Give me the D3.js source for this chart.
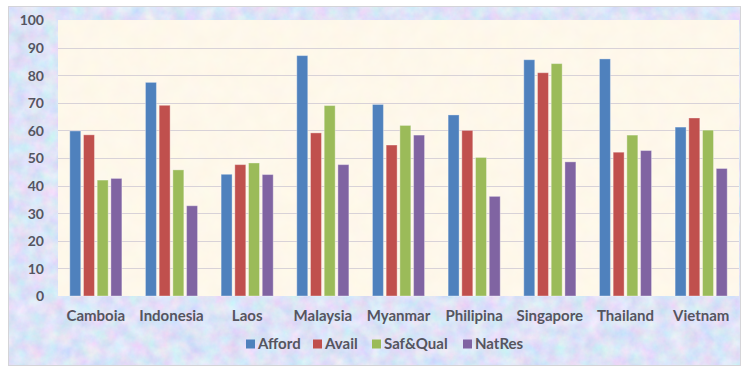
<!DOCTYPE html>
<html>
<head>
<meta charset="utf-8">
<script src="https://cdn.jsdelivr.net/npm/d3@7"></script>
<style>
  html, body { margin: 0; padding: 0; background: #ffffff; }
  svg { display: block; }
  text { font-family: Lato, "Open Sans", "DejaVu Sans", sans-serif; font-weight: 700; fill: #555560; }
</style>
</head>
<body>
<svg id="chart" width="746" height="368"></svg>
<script>
// Scores by country for four food-security dimensions
const countries = ["Camboia", "Indonesia", "Laos", "Malaysia", "Myanmar", "Philipina", "Singapore", "Thailand", "Vietnam"];
const seriesNames = ["Afford", "Avail", "Saf&Qual", "NatRes"];
const afford  = [59.8, 77.4, 44.1, 87.1, 69.4, 65.6, 85.6, 85.9, 61.2];
const avail   = [58.4, 69.1, 47.6, 59.1, 54.7, 60.0, 80.9, 52.1, 64.5];
const safQual = [42.0, 45.7, 48.2, 69.0, 61.8, 50.2, 84.2, 58.3, 60.1];
const natRes  = [42.6, 32.7, 44.0, 47.6, 58.3, 36.1, 48.6, 52.7, 46.2];
const yTicks  = [0, 10, 20, 30, 40, 50, 60, 70, 80, 90, 100];
const colors  = ["#4F81BD", "#C0504D", "#9BBB59", "#8064A2"];

const seriesValues = [afford, avail, safQual, natRes];

const svg = d3.select("#chart");
const defs = svg.append("defs");

// Mottled periwinkle texture for the chart background
const fOuter = defs.append("filter").attr("id", "mottle")
  .attr("x", 0).attr("y", 0).attr("width", "100%").attr("height", "100%");
fOuter.append("feTurbulence").attr("type", "fractalNoise")
  .attr("baseFrequency", "0.07").attr("numOctaves", 4).attr("seed", 7).attr("result", "n");
fOuter.append("feColorMatrix").attr("in", "n").attr("type", "matrix")
  .attr("values", "0.45 0 0 0 0.5  0 0.34 0 0 0.6  0 0 0.18 0 0.84  0 0 0 0 1");

// Faint grain for the cream plot area
const fInner = defs.append("filter").attr("id", "paper")
  .attr("x", 0).attr("y", 0).attr("width", "100%").attr("height", "100%");
fInner.append("feTurbulence").attr("type", "fractalNoise")
  .attr("baseFrequency", "0.06").attr("numOctaves", 3).attr("seed", 2).attr("result", "n");
fInner.append("feColorMatrix").attr("in", "n").attr("type", "matrix")
  .attr("values", "0.04 0 0 0 0.97  0 0.05 0 0 0.91  0 0 0.07 0 0.79  0 0 0 0 1");

const outer = { x: 8, y: 6, w: 733, h: 360 };
const plot = { left: 58, right: 739, top: 20, bottom: 296 };

svg.append("rect")
  .attr("x", outer.x).attr("y", outer.y).attr("width", outer.w).attr("height", outer.h)
  .attr("filter", "url(#mottle)");
svg.append("rect")
  .attr("x", outer.x + 0.5).attr("y", outer.y + 0.5).attr("width", outer.w - 1).attr("height", outer.h - 1)
  .attr("fill", "none").attr("stroke", "#d4d4d8");

svg.append("rect")
  .attr("x", plot.left).attr("y", plot.top)
  .attr("width", plot.right - plot.left).attr("height", plot.bottom - plot.top)
  .attr("filter", "url(#paper)");

const x = d3.scaleBand().domain(countries).range([plot.left, plot.right]).paddingInner(0).paddingOuter(0);
const xs = d3.scaleBand().domain(seriesNames).range([0, x.bandwidth()]).paddingInner(0.2).paddingOuter(0.86);
const y = d3.scaleLinear().domain([0, 100]).range([plot.bottom, plot.top]);

// Horizontal gridlines
svg.append("g").selectAll("line").data(yTicks.filter(t => t > 0 && t < 100)).join("line")
  .attr("x1", plot.left).attr("x2", plot.right)
  .attr("y1", d => Math.round(y(d)) + 0.5).attr("y2", d => Math.round(y(d)) + 0.5)
  .attr("stroke", "#d8d2d8").attr("stroke-width", 1);

// Y axis labels
const yAxis = d3.axisLeft(y).tickValues(yTicks).tickSize(0).tickPadding(0);
const gy = svg.append("g").attr("transform", `translate(44,0)`).call(yAxis);
gy.select(".domain").remove();
gy.selectAll("text").style("font-size", "14px").attr("dy", "0.35em")
  .style("font-family", "Lato, 'Open Sans', sans-serif").style("font-weight", 700).attr("fill", "#555560");

// Bars
const groups = svg.append("g").selectAll("g").data(countries).join("g")
  .attr("transform", d => `translate(${x(d)},0)`);
groups.selectAll("rect")
  .data((c, i) => seriesNames.map((s, k) => ({ s, v: seriesValues[k][i], k })))
  .join("rect")
  .attr("x", d => xs(d.s))
  .attr("width", xs.bandwidth())
  .attr("y", d => y(d.v))
  .attr("height", d => y(0) - y(d.v))
  .attr("fill", d => colors[d.k])
  .attr("stroke", "rgba(255,255,255,0.35)")
  .attr("stroke-width", 1);

// Category labels
const xAxis = d3.axisBottom(x).tickSize(0).tickPadding(0);
const gx = svg.append("g").attr("transform", `translate(0,${plot.bottom})`).call(xAxis);
gx.select(".domain").remove();
gx.selectAll("text").attr("y", 25).attr("dy", 0).style("font-size", "15px")
  .style("font-family", "Lato, 'Open Sans', sans-serif").style("font-weight", 700).attr("fill", "#555560");

// Legend
const legendX = [246, 313, 372, 463];
const legend = svg.append("g").selectAll("g").data(seriesNames).join("g")
  .attr("transform", (d, i) => `translate(${legendX[i]},344)`);
legend.append("rect").attr("x", 0).attr("y", -4.5).attr("width", 9).attr("height", 9)
  .attr("fill", (d, i) => colors[i]);
legend.append("text").attr("x", 12).attr("dy", "0.35em").style("font-size", "15px").text(d => d);
</script>
</body>
</html>
